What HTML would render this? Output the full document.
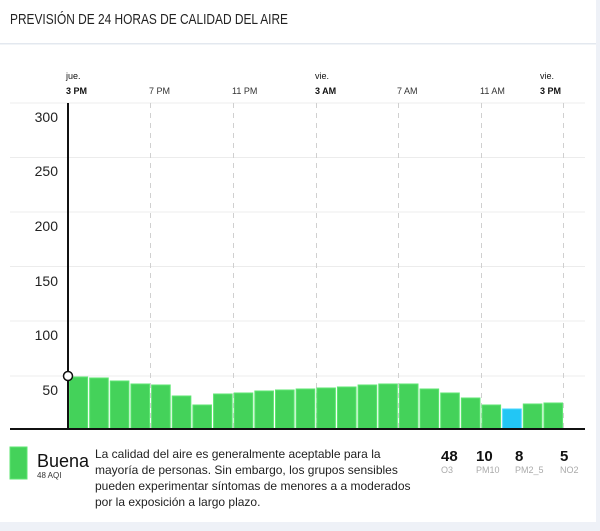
<!DOCTYPE html>
<html><head><meta charset="utf-8"><style>
html,body{margin:0;padding:0;background:#eef1f7;}
body{width:600px;height:526px;overflow:hidden;font-family:"Liberation Sans",sans-serif;}
</style></head><body>
<svg width="600" height="526" xmlns="http://www.w3.org/2000/svg" font-family="Liberation Sans, sans-serif">
<rect x="0" y="0" width="596" height="522" fill="#fff"/>
<text x="10" y="24" font-size="15" fill="#222" textLength="278" lengthAdjust="spacingAndGlyphs">PREVISIÓN DE 24 HORAS DE CALIDAD DEL AIRE</text>
<rect x="0" y="43" width="596" height="1.5" fill="#e3e8ef"/>
<g stroke="#ececec" stroke-width="1">
<line x1="10" y1="103" x2="585" y2="103"/><line x1="10" y1="157.5" x2="585" y2="157.5"/>
<line x1="10" y1="212" x2="585" y2="212"/><line x1="10" y1="266.5" x2="585" y2="266.5"/>
<line x1="10" y1="321" x2="585" y2="321"/><line x1="10" y1="376" x2="585" y2="376"/>
</g>
<g stroke="#d0d0d0" stroke-width="1" stroke-dasharray="5,5">
<line x1="150.5" y1="103" x2="150.5" y2="429"/><line x1="233.5" y1="103" x2="233.5" y2="429"/>
<line x1="316.5" y1="103" x2="316.5" y2="429"/><line x1="398.5" y1="103" x2="398.5" y2="429"/>
<line x1="481.5" y1="103" x2="481.5" y2="429"/><line x1="563.5" y1="103" x2="563.5" y2="429"/>
</g>
<g font-size="9" fill="#111">
<text x="66" y="79">jue.</text><text x="66" y="94" font-weight="bold">3 PM</text>
<text x="149" y="94" fill="#333">7 PM</text><text x="232" y="94" fill="#333">11 PM</text>
<text x="315" y="79">vie.</text><text x="315" y="94" font-weight="bold">3 AM</text>
<text x="397" y="94" fill="#333">7 AM</text><text x="480" y="94" fill="#333">11 AM</text>
<text x="540" y="79">vie.</text><text x="540" y="94" font-weight="bold">3 PM</text>
</g>
<g font-size="14" fill="#222" text-anchor="end">
<text x="58" y="122">300</text><text x="58" y="176">250</text><text x="58" y="231">200</text>
<text x="58" y="286">150</text><text x="58" y="340">100</text><text x="58" y="395">50</text>
</g>
<g fill="#44d25a" stroke="#5ee672" stroke-width="1">
<rect x="69" y="377" width="18.6" height="52"/>
<rect x="89.65" y="378" width="18.6" height="51"/>
<rect x="110.3" y="381" width="18.6" height="48"/>
<rect x="130.95" y="384" width="18.6" height="45"/>
<rect x="151.6" y="385" width="18.6" height="44"/>
<rect x="172.25" y="396" width="18.6" height="33"/>
<rect x="192.9" y="405" width="18.6" height="24"/>
<rect x="213.55" y="394" width="18.6" height="35"/>
<rect x="234.2" y="393" width="18.6" height="36"/>
<rect x="254.85" y="391" width="18.6" height="38"/>
<rect x="275.5" y="390" width="18.6" height="39"/>
<rect x="296.15" y="389" width="18.6" height="40"/>
<rect x="316.8" y="388" width="18.6" height="41"/>
<rect x="337.45" y="387" width="18.6" height="42"/>
<rect x="358.1" y="385" width="18.6" height="44"/>
<rect x="378.75" y="384" width="18.6" height="45"/>
<rect x="399.4" y="384" width="18.6" height="45"/>
<rect x="420.05" y="389" width="18.6" height="40"/>
<rect x="440.7" y="393" width="18.6" height="36"/>
<rect x="461.35" y="398" width="18.6" height="31"/>
<rect x="482" y="405" width="18.6" height="24"/>
<rect x="502.65" y="409" width="18.6" height="20" fill="#22c6f5" stroke="#44d6ff"/>
<rect x="523.3" y="404" width="18.6" height="25"/>
<rect x="543.95" y="403" width="18.6" height="26"/>
</g>
<line x1="10" y1="429" x2="585" y2="429" stroke="#111" stroke-width="2"/>
<line x1="68" y1="103" x2="68" y2="429" stroke="#111" stroke-width="2"/>
<circle cx="68" cy="376" r="4.5" fill="#fff" stroke="#111" stroke-width="1.5"/>
<rect x="10" y="447" width="17" height="32" fill="#44d25a" stroke="#5ee672"/>
<text x="37" y="467" font-size="18" fill="#111">Buena</text>
<text x="37" y="478" font-size="8" fill="#333">48 AQI</text>
<g font-size="12" fill="#222">
<text x="95" y="458">La calidad del aire es generalmente aceptable para la</text>
<text x="95" y="474">mayoría de personas. Sin embargo, los grupos sensibles</text>
<text x="95" y="490">pueden experimentar síntomas de menores a a moderados</text>
<text x="95" y="506">por la exposición a largo plazo.</text>
</g>
<g font-size="15" font-weight="bold" fill="#111">
<text x="441" y="461">48</text><text x="476" y="461">10</text><text x="515" y="461">8</text><text x="560" y="461">5</text>
</g>
<g font-size="9" fill="#aaa">
<text x="441" y="473">O3</text><text x="476" y="473">PM10</text><text x="515" y="473">PM2_5</text><text x="560" y="473">NO2</text>
</g>
</svg>
</body></html>
